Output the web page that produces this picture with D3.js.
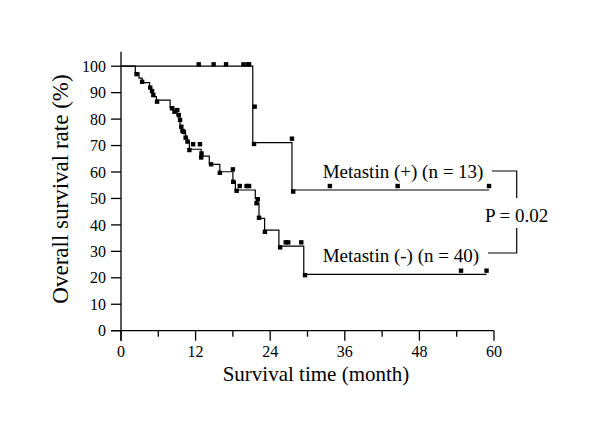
<!DOCTYPE html>
<html><head><meta charset="utf-8">
<script src="https://cdn.jsdelivr.net/npm/d3@7/dist/d3.min.js"></script>
<style>body{margin:0;background:#fff}svg{display:block}text{font-family:"Liberation Serif","Times New Roman",serif;fill:#000}</style>
</head><body><svg id="c" width="600" height="447"></svg>
<script>
// Metastin (-) step function (time in months, survival % after that time)
const negTimes = [0, 2.3, 2.9, 3.4, 4.6, 4.9, 5.2, 5.7, 7.9, 8.5, 9.0, 9.3, 9.5, 9.7, 10.0, 10.4, 10.7, 11.0, 12.9, 14.2, 15.9, 18.0, 18.4, 21.6, 21.8, 22.2, 23.1, 25.4, 29.4, 58.8];
const negSurv  = [100, 97.5, 95.5, 93.8, 92, 90.2, 88.5, 87.2, 84.5, 83, 81.5, 79.7, 77.5, 75.5, 74.5, 73, 71.5, 68.6, 66, 62.9, 60.1, 56.5, 53.2, 50, 48.2, 42.5, 38, 32, 21.3, 21.3];
// Metastin (-) observation markers
const negMarkT = [2.5, 3.4, 4.7, 5.0, 5.2, 5.8, 8.2, 8.6, 9.05, 9.3, 9.5, 9.7, 9.9, 10.1, 10.4, 10.7, 11.0, 11.6, 12.7, 12.95, 12.9, 14.5, 15.9, 18.0, 18.05, 18.6, 19.1, 20.2, 20.6, 21.8, 22.0, 22.2, 23.15, 25.6, 26.5, 26.9, 29.0, 29.6, 54.7, 58.8];
const negMarkS = [97, 94.1, 91.9, 90.6, 89.1, 86.6, 84.1, 82.8, 83.4, 81.5, 79.7, 77.1, 75.5, 75.2, 73, 71.5, 68.3, 70.5, 70.5, 67, 65.5, 62.9, 59.7, 61, 56.3, 52.9, 54.7, 54.7, 54.7, 48.2, 49.7, 42.7, 37.4, 31.5, 33.4, 33.4, 33.4, 21, 22.7, 22.7];
// Metastin (+) step function
const posTimes = [0, 21.2, 27.5, 59.2];
const posSurv  = [100, 71.1, 53.2, 53.2];
// Metastin (+) observation markers
const posMarkT = [12.5, 14.9, 16.9, 19.7, 20.4, 20.6, 21.5, 21.4, 27.5, 27.7, 33.6, 44.5, 59.2];
const posMarkS = [100.7, 100.7, 100.7, 100.7, 100.7, 100.7, 84.7, 70.6, 72.6, 52.6, 54.7, 54.7, 54.7];
// Axes
const xTicks = [0, 12, 24, 36, 48, 60];
const xMinor = [6, 18, 30, 42, 54];
const yTicks = [0, 10, 20, 30, 40, 50, 60, 70, 80, 90, 100];
const labelPos = "Metastin (+) (n = 13)";
const labelNeg = "Metastin (-) (n = 40)";
const pLabel = "P = 0.02";
const xTitle = "Survival time (month)";
const yTitle = "Overall survival rate (%)";

const svg = d3.select("#c");
const x = d3.scaleLinear().domain([0, 60]).range([121, 494]);
const y = d3.scaleLinear().domain([0, 100]).range([330.7, 66.2]);

// axes
const ax = svg.append("g").attr("stroke", "#000").attr("stroke-width", 1.3);
ax.append("line").attr("x1", x(0)).attr("x2", x(0)).attr("y1", y(0) + 10).attr("y2", y(105.5));
ax.append("line").attr("x1", x(0) - 10).attr("x2", x(60)).attr("y1", y(0)).attr("y2", y(0));
yTicks.forEach(v => ax.append("line").attr("x1", x(0) - 10).attr("x2", x(0)).attr("y1", y(v)).attr("y2", y(v)));
xTicks.forEach(v => ax.append("line").attr("x1", x(v)).attr("x2", x(v)).attr("y1", y(0)).attr("y2", y(0) + 10));
xMinor.forEach(v => ax.append("line").attr("x1", x(v)).attr("x2", x(v)).attr("y1", y(0)).attr("y2", y(0) + 6));

svg.append("g").selectAll("text").data(yTicks).join("text")
  .attr("x", x(0) - 15).attr("y", d => y(d)).attr("dy", "0.35em")
  .attr("text-anchor", "end").attr("font-size", 16).text(d => d);
svg.append("g").selectAll("text").data(xTicks).join("text")
  .attr("x", d => x(d)).attr("y", 356.5)
  .attr("text-anchor", "middle").attr("font-size", 16).text(d => d);

svg.append("text").attr("x", 316).attr("y", 381)
  .attr("text-anchor", "middle").attr("font-size", 21).text(xTitle);
svg.append("text").attr("transform", "translate(68,189) rotate(-90)")
  .attr("text-anchor", "middle").attr("font-size", 23).text(yTitle);

// curves
const line = d3.line().x(d => x(d[0])).y(d => y(d[1])).curve(d3.curveStepAfter);
function drawGroup(ts, ss, mt, ms) {
  svg.append("path").attr("d", line(ts.map((t, i) => [t, ss[i]])))
    .attr("fill", "none").attr("stroke", "#000").attr("stroke-width", 1.2);
  svg.append("g").selectAll("rect").data(mt.map((t, i) => [t, ms[i]])).join("rect")
    .attr("x", d => x(d[0]) - 2.2).attr("y", d => y(d[1]) - 2.2)
    .attr("width", 4.4).attr("height", 4.4).attr("fill", "#000");
}
drawGroup(posTimes, posSurv, posMarkT, posMarkS);
drawGroup(negTimes, negSurv, negMarkT, negMarkS);

// labels and bracket
svg.append("text").attr("x", 322.7).attr("y", 178.3).attr("font-size", 19).text(labelPos);
svg.append("text").attr("x", 322.7).attr("y", 261.5).attr("font-size", 19).text(labelNeg);
svg.append("text").attr("x", 485).attr("y", 221.7).attr("font-size", 19).text(pLabel);
svg.append("path").attr("d", "M492,171 H516.7 V198 M516.7,228 V253 H488")
  .attr("fill", "none").attr("stroke", "#000").attr("stroke-width", 1.2);
</script></body></html>
